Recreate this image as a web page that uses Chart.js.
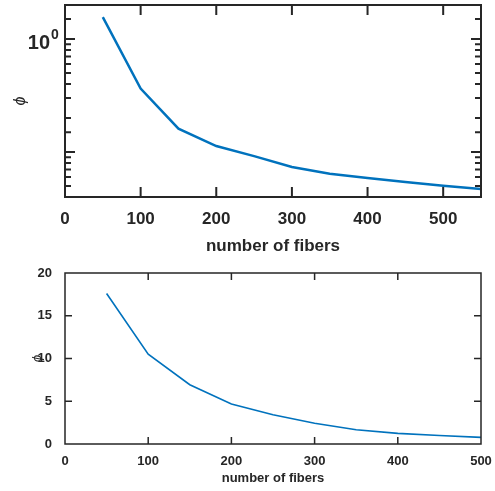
<!DOCTYPE html>
<html>
<head>
<meta charset="utf-8">
<script src="https://cdn.jsdelivr.net/npm/chart.js@4"></script>
<style>
  body { margin: 0; background: #fff; }
  canvas { position: absolute; left: 0; }
  #top { top: 0; }
  #bottom { top: 260px; }
</style>
</head>
<body>
<canvas id="top" width="495" height="260"></canvas>
<canvas id="bottom" width="495" height="231"></canvas>
<script>
// top panel (log scale)
const fibersTop = [50, 100, 150, 200, 250, 300, 350, 400, 450, 500, 550];
const phiTop = [1.56, 0.365, 0.161, 0.113, 0.092, 0.0736, 0.0642, 0.0588, 0.0542, 0.0502, 0.047];
// bottom panel (linear scale)
const fibersBottom = [50, 100, 150, 200, 250, 300, 350, 400, 450, 500];
const phiBottom = [17.6, 10.5, 6.93, 4.68, 3.43, 2.42, 1.67, 1.24, 1.0, 0.77];
const xTicksTop = [0, 100, 200, 300, 400, 500];
const yLabelsTop = [1];   // only the decade 10^0 is labelled
const xTicksBottom = [0, 100, 200, 300, 400, 500];
const yTicksBottom = [0, 5, 10, 15, 20];

const FONT = "'Liberation Sans', Arial, Helvetica, sans-serif";
const AXIS = '#262626';
const BLUE = '#0072BD';

// MATLAB-like box with inward ticks on all four sides
const boxTicks = {
  id: 'boxTicks',
  afterDatasetsDraw(chart, args, opts) {
    const {ctx, chartArea: a, scales: {x, y}} = chart;
    ctx.save();
    ctx.strokeStyle = AXIS;
    ctx.lineWidth = opts.tickWidth;
    ctx.beginPath();
    x.ticks.forEach(t => {
      const px = x.getPixelForValue(t.value);
      if (px <= a.left + 1 || px >= a.right - 1) return;
      ctx.moveTo(px, a.bottom); ctx.lineTo(px, a.bottom - opts.len);
      ctx.moveTo(px, a.top); ctx.lineTo(px, a.top + opts.len);
    });
    y.ticks.forEach(t => {
      const py = y.getPixelForValue(t.value);
      if (py <= a.top + 1 || py >= a.bottom - 1) return;
      let len = opts.len;
      if (opts.log && Math.abs(Math.log10(t.value) - Math.round(Math.log10(t.value))) > 1e-6) len = opts.minorLen;
      ctx.moveTo(a.left, py); ctx.lineTo(a.left + len, py);
      ctx.moveTo(a.right, py); ctx.lineTo(a.right - len, py);
    });
    ctx.stroke();
    ctx.lineWidth = opts.width;
    ctx.strokeRect(a.left, a.top, a.right - a.left, a.bottom - a.top);

    // decade labels as 10 with a raised exponent
    if (opts.log) {
      ctx.fillStyle = AXIS;
      yLabelsTop.forEach(v => {
        const py = y.getPixelForValue(v);
        const right = a.left - 15;
        ctx.font = 'bold 20px ' + FONT;
        ctx.textAlign = 'right';
        ctx.textBaseline = 'alphabetic';
        ctx.fillText('10', right, py + 10.3);
        ctx.font = 'bold 14px ' + FONT;
        ctx.textAlign = 'left';
        ctx.fillText(String(Math.round(Math.log10(v))), right + 1, py + 0.3);
      });
    }
    ctx.restore();
  }
};

const noPad = s => { s.paddingTop = 0; s.paddingBottom = 0; s.paddingLeft = 0; s.paddingRight = 0; };

new Chart(document.getElementById('top'), {
  type: 'line',
  data: {
    datasets: [{
      data: fibersTop.map((f, i) => ({x: f, y: phiTop[i]})),
      borderColor: BLUE,
      borderWidth: 2.5,
      pointRadius: 0,
      tension: 0
    }]
  },
  options: {
    responsive: false,
    animation: false,
    layout: {padding: {top: 5, right: 14, left: 0, bottom: 0}},
    plugins: {
      legend: {display: false},
      tooltip: {enabled: false},
      boxTicks: {width: 2, tickWidth: 2, len: 10, minorLen: 6, log: true}
    },
    scales: {
      x: {
        type: 'linear', min: 0, max: 550,
        grid: {display: false},
        border: {display: false},
        afterBuildTicks: s => { s.ticks = xTicksTop.map(v => ({value: v})); },
        ticks: {color: AXIS, font: {family: FONT, size: 17, weight: 'bold'}, padding: 4, maxRotation: 0},
        title: {display: true, text: 'number of fibers', color: AXIS, font: {family: FONT, size: 17, weight: 'bold'}, padding: {top: 0, bottom: 3}},
        afterFit: s => { noPad(s); s.height = 63; }
      },
      y: {
        type: 'logarithmic', min: 0.04, max: 2,
        grid: {display: false},
        border: {display: false},
        ticks: {
          color: AXIS, font: {family: FONT, size: 17, weight: 'bold'}, padding: 11, autoSkip: false,
          callback: () => ''
        },
        title: {display: true, text: '\u03d5', color: AXIS, font: {family: FONT, size: 16, style: 'italic'}, padding: {top: 11, bottom: 0}},
        afterFit: s => { noPad(s); s.width = 65; }
      }
    }
  },
  plugins: [boxTicks]
});

new Chart(document.getElementById('bottom'), {
  type: 'line',
  data: {
    datasets: [{
      data: fibersBottom.map((f, i) => ({x: f, y: phiBottom[i]})),
      borderColor: BLUE,
      borderWidth: 1.6,
      pointRadius: 0,
      tension: 0
    }]
  },
  options: {
    responsive: false,
    animation: false,
    layout: {padding: {top: 13, right: 14, left: 0, bottom: 0}},
    plugins: {
      legend: {display: false},
      tooltip: {enabled: false},
      boxTicks: {width: 1.5, tickWidth: 1.5, len: 7, minorLen: 7, log: false}
    },
    scales: {
      x: {
        type: 'linear', min: 0, max: 500,
        grid: {display: false},
        border: {display: false},
        afterBuildTicks: s => { s.ticks = xTicksBottom.map(v => ({value: v})); },
        ticks: {color: AXIS, font: {family: FONT, size: 13, weight: 'bold'}, padding: 2, maxRotation: 0},
        title: {display: true, text: 'number of fibers', color: AXIS, font: {family: FONT, size: 13, weight: 'bold'}, padding: {top: 0, bottom: 5}},
        afterFit: s => { noPad(s); s.height = 47; }
      },
      y: {
        type: 'linear', min: 0, max: 20,
        grid: {display: false},
        border: {display: false},
        afterBuildTicks: s => { s.ticks = yTicksBottom.map(v => ({value: v})); },
        ticks: {color: AXIS, font: {family: FONT, size: 13, weight: 'bold'}, padding: 5},
        title: {display: true, text: '\u03d5', color: AXIS, font: {family: FONT, size: 13, style: 'italic'}, padding: {top: 30, bottom: 0}},
        afterFit: s => { noPad(s); s.width = 65; }
      }
    }
  },
  plugins: [boxTicks]
});
</script>
</body>
</html>
